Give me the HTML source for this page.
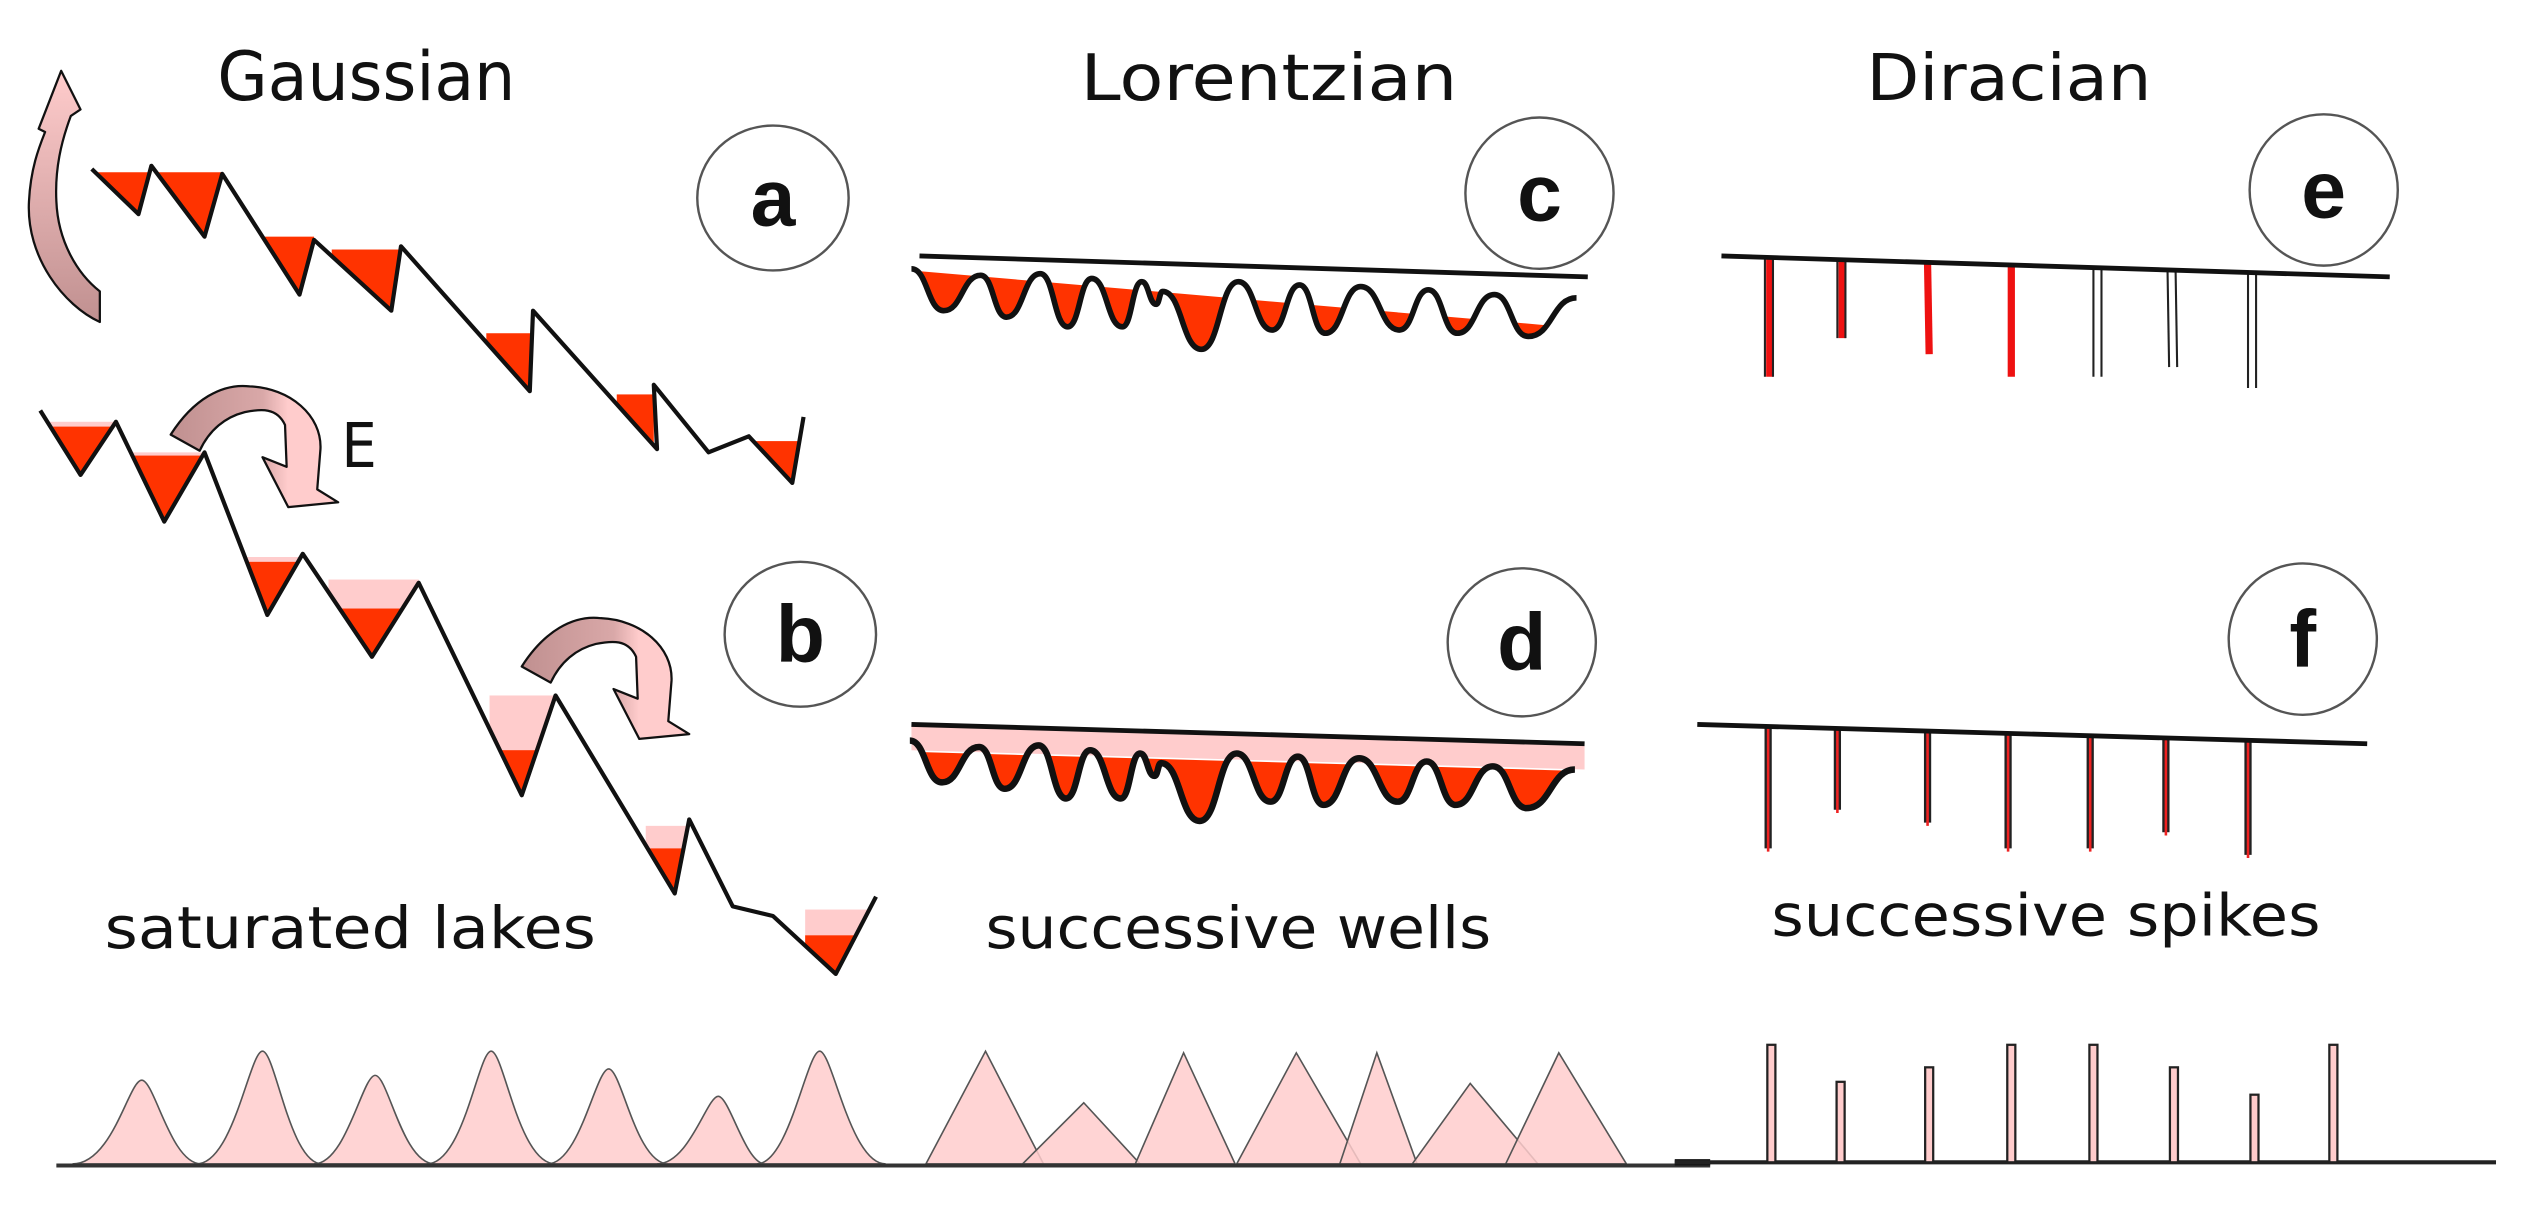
<!DOCTYPE html>
<html><head><meta charset="utf-8"><style>
html,body{margin:0;padding:0;background:#fff;}
svg{display:block;}
text{font-family:"DejaVu Sans","Liberation Sans",sans-serif;fill:#111;}
.lt{font-family:"Liberation Sans",sans-serif;font-weight:bold;}
</style></head><body>
<svg width="2525" height="1209" viewBox="0 0 1568 751" preserveAspectRatio="none" xmlns="http://www.w3.org/2000/svg">
<defs>
<linearGradient id="gh" x1="0" y1="0" x2="1" y2="0">
<stop offset="0" stop-color="#c09090"/><stop offset="0.55" stop-color="#d9a8a8"/><stop offset="0.7" stop-color="#ffcccc"/><stop offset="1" stop-color="#ffcccc"/>
</linearGradient>
<linearGradient id="gv" x1="0" y1="1" x2="0" y2="0">
<stop offset="0" stop-color="#c09090"/><stop offset="1" stop-color="#ffcccc"/>
</linearGradient>
<clipPath id="ca"><path d="M57,105 L86,133 L94,103 L127,147 L138,108 L186,183 L195,149 L243,193 L249,153 L329,243 L331,193 L408,279 L406,239 L440,281 L465,271 L492,300 L499,259 L499,0 L57,0 Z"/></clipPath>
<clipPath id="cb"><path d="M25,255 L50,295 L72,262 L102,324 L127,281 L166,382 L188,344 L231,408 L260,362 L324,494 L345,432 L419,555 L428,509 L455,563 L480,569 L519,605 L544,557 L544,0 L25,0 Z"/></clipPath>
<path id="wave" d="M566,167 C576,167 576,193 586,193 C597.5,193 597.5,171 609,171 C617,171 617,197 625,197 C635.5,197 635.5,170 646,170 C654.5,170 654.5,203 663,203 C670.5,203 670.5,173 678,173 C687.5,173 687.5,203 697,203 C703,203 703,175 709,175 C713.5,175 713.5,189 718,189 C720,189 720,181 722,181 C734,181 734,217 746,217 C757.5,217 757.5,175 769,175 C779.5,175 779.5,205 790,205 C798.5,205 798.5,177 807,177 C815,177 815,207 823,207 C834,207 834,178 845,178 C857,178 857,205 869,205 C878,205 878,180 887,180 C896,180 896,207 905,207 C916.5,207 916.5,183 928,183 C938.5,183 938.5,209 949,209 C964,209 964,185 979,185"/>
<clipPath id="cc"><path d="M566,167 C576,167 576,193 586,193 C597.5,193 597.5,171 609,171 C617,171 617,197 625,197 C635.5,197 635.5,170 646,170 C654.5,170 654.5,203 663,203 C670.5,203 670.5,173 678,173 C687.5,173 687.5,203 697,203 C703,203 703,175 709,175 C713.5,175 713.5,189 718,189 C720,189 720,181 722,181 C734,181 734,217 746,217 C757.5,217 757.5,175 769,175 C779.5,175 779.5,205 790,205 C798.5,205 798.5,177 807,177 C815,177 815,207 823,207 C834,207 834,178 845,178 C857,178 857,205 869,205 C878,205 878,180 887,180 C896,180 896,207 905,207 C916.5,207 916.5,183 928,183 C938.5,183 938.5,209 949,209 C964,209 964,185 979,185 L979,0 L566,0 Z"/></clipPath>
<path id="curv" d="M106,270 C120,248 138,238 155,240 C180,241 200,258 199,279 L197,304 L210,312 L179,315 L163,284 L178,290 L177,264 C172,253 162,254 152,256 C140,259 130,267 124,280 Z"/>
</defs>

<!-- titles -->
<text x="135" y="62" font-size="42" textLength="185" lengthAdjust="spacingAndGlyphs">Gaussian</text>
<text x="671" y="62" font-size="40" textLength="234" lengthAdjust="spacingAndGlyphs">Lorentzian</text>
<text x="1159" y="62" font-size="40" textLength="177" lengthAdjust="spacingAndGlyphs">Diracian</text>

<!-- circles -->
<g fill="none" stroke="#555" stroke-width="1.5">
<ellipse cx="480" cy="123" rx="47" ry="45"/>
<ellipse cx="497" cy="394" rx="47" ry="45"/>
<ellipse cx="956" cy="120" rx="46" ry="47"/>
<ellipse cx="945" cy="399" rx="46" ry="46"/>
<ellipse cx="1443" cy="118" rx="46" ry="47"/>
<ellipse cx="1430" cy="397" rx="46" ry="47"/>
</g>
<g font-size="50" text-anchor="middle">
<text class="lt" x="480" y="140">a</text>
<text class="lt" x="497" y="411">b</text>
<text class="lt" x="956" y="137">c</text>
<text class="lt" x="945" y="416">d</text>
<text class="lt" x="1443" y="135">e</text>
<text class="lt" x="1430" y="414">f</text>
</g>

<!-- Gaussian a -->
<g clip-path="url(#ca)" fill="#ff3300">
<rect x="57" y="107" width="37" height="40"/>
<rect x="94" y="107" width="44" height="45"/>
<rect x="161" y="147" width="34" height="45"/>
<rect x="206" y="155" width="43" height="45"/>
<rect x="302" y="207" width="29" height="45"/>
<rect x="383" y="245" width="23" height="40"/>
<rect x="469" y="274" width="30" height="35"/>
</g>
<polyline points="57,105 86,133 94,103 127,147 138,108 186,183 195,149 243,193 249,153 329,243 331,193 408,279 406,239 440,281 465,271 492,300 499,259" fill="none" stroke="#111" stroke-width="2.6" stroke-linejoin="round"/>

<!-- Gaussian b -->
<g clip-path="url(#cb)">
<g fill="#ffcccc">
<rect x="25" y="262" width="47" height="40"/>
<rect x="72" y="281" width="55" height="50"/>
<rect x="148" y="346" width="40" height="40"/>
<rect x="204" y="360" width="56" height="50"/>
<rect x="304" y="432" width="41" height="65"/>
<rect x="401" y="513" width="27" height="45"/>
<rect x="500" y="565" width="44" height="45"/>
</g>
<g fill="#ff3300">
<rect x="25" y="265" width="47" height="40"/>
<rect x="72" y="283" width="55" height="50"/>
<rect x="148" y="349" width="40" height="40"/>
<rect x="204" y="378" width="56" height="40"/>
<rect x="304" y="466" width="41" height="35"/>
<rect x="401" y="527" width="27" height="35"/>
<rect x="500" y="581" width="44" height="30"/>
</g>
</g>
<polyline points="25,255 50,295 72,262 102,324 127,281 166,382 188,344 231,408 260,362 324,494 345,432 419,555 428,509 455,563 480,569 519,605 544,557" fill="none" stroke="#111" stroke-width="2.6" stroke-linejoin="round"/>

<!-- arrows -->
<path d="M62,200 C40,190 16,160 18,125 C19,105 24,92 28,82 L24,80 L38,44 L50,68 L44,72 C38,88 34,105 35,125 C36,150 48,170 62,181 Z" fill="url(#gv)" stroke="#111" stroke-width="1.4" stroke-linejoin="round"/>
<use href="#curv" fill="url(#gh)" stroke="#111" stroke-width="1.4" stroke-linejoin="round"/>
<use href="#curv" transform="translate(218,144)" fill="url(#gh)" stroke="#111" stroke-width="1.4" stroke-linejoin="round"/>
<text x="212" y="290" font-size="38" font-family="Liberation Sans" textLength="22" lengthAdjust="spacingAndGlyphs">E</text>

<text x="65" y="589" font-size="36" textLength="305" lengthAdjust="spacingAndGlyphs">saturated lakes</text>

<!-- Lorentzian c -->
<g clip-path="url(#cc)"><polygon points="566,168 960,202 960,240 566,240" fill="#ff3300"/></g>
<use href="#wave" fill="none" stroke="#111" stroke-width="3.5"/>
<line x1="571" y1="159" x2="986" y2="172" stroke="#111" stroke-width="3"/>

<!-- Lorentzian d -->
<polygon points="566,450 984,462 984,478 566,466" fill="#ffcccc"/>
<g transform="translate(-1,293)"><g clip-path="url(#cc)"><polygon points="566,174 985,186 985,240 566,240" fill="#ff3300"/></g>
<use href="#wave" fill="none" stroke="#111" stroke-width="4"/></g>
<line x1="566" y1="450" x2="984" y2="462" stroke="#111" stroke-width="3"/>

<text x="612" y="589" font-size="36" textLength="314" lengthAdjust="spacingAndGlyphs">successive wells</text>

<!-- Diracian e -->
<g stroke-width="4.5">
<line x1="1099" y1="161" x2="1099" y2="234" stroke="#ee1111"/>
<line x1="1144" y1="162" x2="1144" y2="210" stroke="#ee1111"/>
<line x1="1197" y1="164" x2="1198" y2="220" stroke="#ee1111"/>
<line x1="1249" y1="165" x2="1249" y2="234" stroke="#ee1111"/>
</g>
<g stroke="#222" stroke-width="1.3">
<line x1="1096" y1="161" x2="1096" y2="234"/><line x1="1101" y1="161" x2="1101" y2="234"/>
<line x1="1141" y1="162" x2="1141" y2="210"/><line x1="1146" y1="162" x2="1146" y2="210"/>
<line x1="1300" y1="166" x2="1300" y2="234"/><line x1="1305" y1="166" x2="1305" y2="234"/>
<line x1="1346" y1="167" x2="1347" y2="228"/><line x1="1351" y1="167" x2="1352" y2="228"/>
<line x1="1396" y1="168" x2="1396" y2="241"/><line x1="1401" y1="168" x2="1401" y2="241"/>
</g>
<line x1="1069" y1="159" x2="1484" y2="172" stroke="#111" stroke-width="3"/>

<!-- Diracian f -->
<g stroke="#222" stroke-width="4.5">
<line x1="1098" y1="451" x2="1098" y2="527"/>
<line x1="1141" y1="452" x2="1141" y2="503"/>
<line x1="1197" y1="454" x2="1197" y2="511"/>
<line x1="1247" y1="455" x2="1247" y2="527"/>
<line x1="1298" y1="457" x2="1298" y2="527"/>
<line x1="1345" y1="458" x2="1345" y2="517"/>
<line x1="1396" y1="460" x2="1396" y2="531"/>
</g>
<g stroke="#ee2222" stroke-width="1.6">
<line x1="1098" y1="451" x2="1098" y2="529"/>
<line x1="1141" y1="452" x2="1141" y2="505"/>
<line x1="1197" y1="454" x2="1197" y2="513"/>
<line x1="1247" y1="455" x2="1247" y2="529"/>
<line x1="1298" y1="457" x2="1298" y2="529"/>
<line x1="1345" y1="458" x2="1345" y2="519"/>
<line x1="1396" y1="460" x2="1396" y2="533"/>
</g>
<line x1="1054" y1="450" x2="1470" y2="462" stroke="#111" stroke-width="3"/>

<text x="1100" y="581" font-size="36" textLength="341" lengthAdjust="spacingAndGlyphs">successive spikes</text>

<!-- bottom gaussians -->
<g fill="#ffcccc" fill-opacity="0.85" stroke="#555" stroke-width="1">
<path d="M45,723 C70,723 80,671 88,671 C96,671 106,723 125,723 Z"/>
<path d="M122,723 C145,723 155,653 163,653 C171,653 180,723 200,723 Z"/>
<path d="M195,723 C215,723 225,668 233,668 C241,668 250,723 270,723 Z"/>
<path d="M265,723 C288,723 297,653 305,653 C313,653 322,723 345,723 Z"/>
<path d="M340,723 C360,723 370,664 378,664 C386,664 395,723 415,723 Z"/>
<path d="M408,723 C428,723 439,681 446,681 C453,681 463,723 475,723 Z"/>
<path d="M470,723 C490,723 501,653 509,653 C517,653 528,723 550,723 Z"/>
<polygon points="575,723 612,653 648,723"/>
<polygon points="635,723 673,685 708,723"/>
<polygon points="705,723 735,654 767,723"/>
<polygon points="768,723 805,654 845,723"/>
<polygon points="832,723 855,654 880,723"/>
<polygon points="877,723 913,673 955,723"/>
<polygon points="935,723 968,654 1010,723"/>
</g>
<line x1="35" y1="724" x2="1062" y2="724" stroke="#333" stroke-width="2.5"/>
<line x1="1040" y1="722" x2="1062" y2="722" stroke="#111" stroke-width="4"/>
<line x1="1040" y1="722" x2="1550" y2="722" stroke="#222" stroke-width="2.5"/>

<!-- bottom spikes -->
<g fill="#ffcccc" stroke="#222" stroke-width="1.4">
<rect x="1097.5" y="649" width="5" height="73"/>
<rect x="1140.5" y="672" width="5" height="50"/>
<rect x="1195.5" y="663" width="5" height="59"/>
<rect x="1246.5" y="649" width="5" height="73"/>
<rect x="1297.5" y="649" width="5" height="73"/>
<rect x="1347.5" y="663" width="5" height="59"/>
<rect x="1397.5" y="680" width="5" height="42"/>
<rect x="1446.5" y="649" width="5" height="73"/>
</g>
</svg>
</body></html>
